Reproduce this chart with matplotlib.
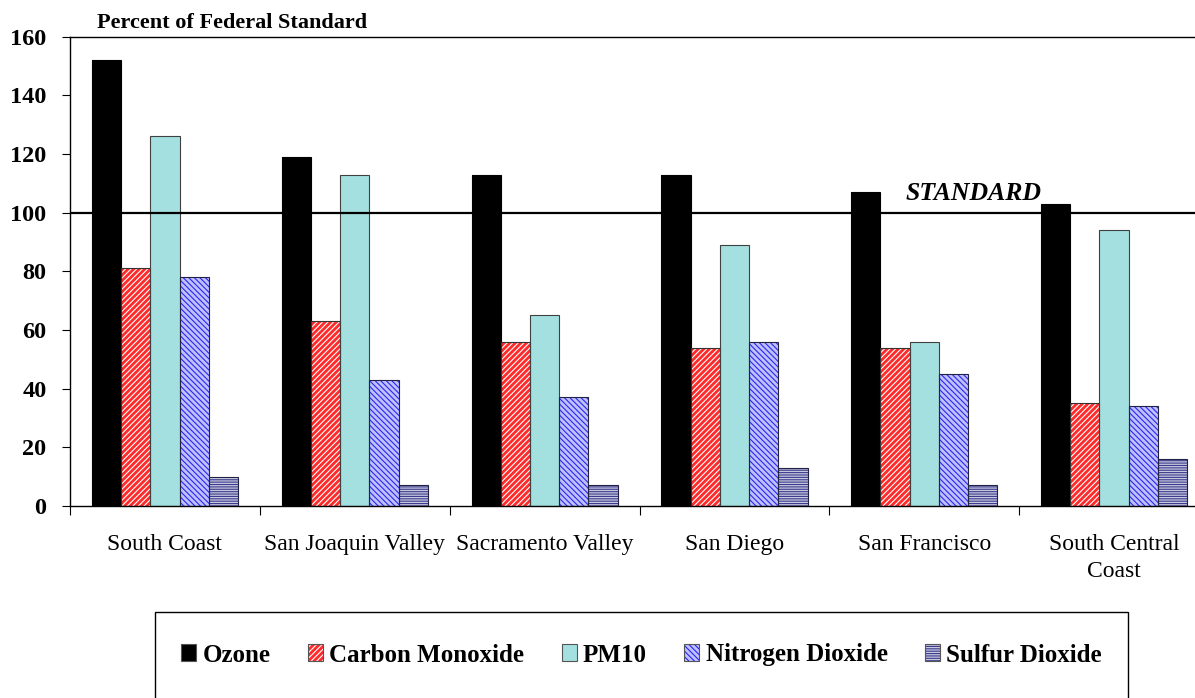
import numpy as np
import matplotlib
matplotlib.use('Agg')
import matplotlib.pyplot as plt
from matplotlib.patches import Patch, Rectangle

plt.rcParams['font.family'] = ['Liberation Serif', 'DejaVu Serif']
plt.rcParams['hatch.linewidth'] = 0.8

regions = ['South Coast', 'San Joaquin Valley', 'Sacramento Valley', 'San Diego',
           'San Francisco', 'South Central\nCoast']
ozone = [152, 119, 113, 113, 107, 103]
carbon_monoxide = [81, 63, 56, 54, 54, 35]
pm10 = [126, 113, 65, 89, 56, 94]
nitrogen_dioxide = [78, 43, 37, 56, 45, 34]
sulfur_dioxide = [10, 7, 7, 13, 7, 16]
pollutants = ['Ozone', 'Carbon Monoxide', 'PM10', 'Nitrogen Dioxide', 'Sulfur Dioxide']
series = [ozone, carbon_monoxide, pm10, nitrogen_dioxide, sulfur_dioxide]

# facecolor, hatch colour, hatch, edge colour
styles = [
    ('black', 'black', None, 'black'),
    ('#FF2A2A', 'white', '//////', '#333333'),
    ('#A4E0E0', '#A4E0E0', None, '#404040'),
    ('#C0C0FF', '#2828F0', '\\\\\\\\\\\\', '#222244'),
    ('#C8C8DC', '#3A3A90', '-------', '#222244'),
]

fig = plt.figure(figsize=(11.95, 6.98), dpi=100)
ax = fig.add_axes([0.05858, 0.27507, 0.95314, 0.67235])

x = np.arange(len(regions)) + 0.5
w = 0.154
handles = []
for i, (vals, (fc, hc, hatch, ec)) in enumerate(zip(series, styles)):
    pos = x + (i - 2) * w
    ax.bar(pos, vals, w, color=fc, edgecolor=hc, linewidth=0, hatch=hatch, zorder=2)
    ax.bar(pos, vals, w, fill=False, edgecolor=ec, linewidth=0.8, zorder=3)
    handles.append((Patch(facecolor=fc, edgecolor=hc, hatch=hatch, linewidth=0),
                    Patch(fill=False, edgecolor='#555555', linewidth=0.8)))

ax.axhline(100, color='black', linewidth=1.6, zorder=4)
ax.text(4.40, 102.5, 'STANDARD', fontsize=18.5, fontweight='bold', fontstyle='italic',
        ha='left', va='bottom')

ax.set_xlim(0, 6)
ax.set_ylim(0, 160)
ax.set_yticks(np.arange(0, 161, 20))
ax.set_yticklabels([str(v) for v in range(0, 161, 20)], fontsize=17.5, fontweight='bold')
ax.tick_params(axis='y', direction='out', length=6, width=0.8, pad=11)

ax.set_xticks(np.arange(0, 7))
ax.set_xticklabels([])
ax.set_xticks(x, minor=True)
ax.set_xticklabels(regions, minor=True, fontsize=17, linespacing=1.4)
ax.tick_params(axis='x', which='major', direction='out', length=6.5, width=0.8)
ax.tick_params(axis='x', which='minor', length=0, pad=20)

ax.spines['right'].set_visible(False)
for s in ['left', 'top', 'bottom']:
    ax.spines[s].set_linewidth(1.0)

fig.text(97 / 1195, 1 - 28 / 698, 'Percent of Federal Standard', fontsize=16,
         fontweight='bold', va='baseline', ha='left')

# legend box
fig.patches.append(Rectangle((155 / 1195, -0.004), (1128 - 155) / 1195, 0.127,
                             transform=fig.transFigure, fill=False,
                             edgecolor='black', linewidth=1.0))
fig.legend(handles, pollutants, loc='center', bbox_to_anchor=(641.5 / 1195, 1 - 655 / 698),
           ncol=5, frameon=False, prop={'family': 'Liberation Serif', 'weight': 'bold', 'size': 18},
           handlelength=0.6, handleheight=0.65, handletextpad=0.25, columnspacing=1.5)

fig.savefig('out.png', dpi=100)
